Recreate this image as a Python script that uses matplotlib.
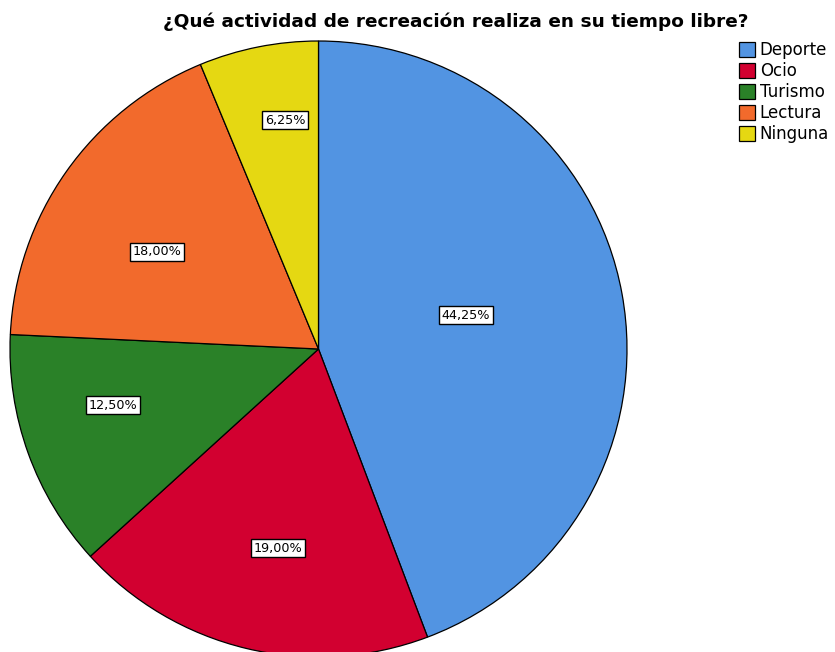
import matplotlib
matplotlib.use("Agg")
import matplotlib.pyplot as plt
import numpy as np

# data
categories = ["Deporte", "Ocio", "Turismo", "Lectura", "Ninguna"]
values = [44.25, 19.00, 12.50, 18.00, 6.25]
pct_labels = ["44,25%", "19,00%", "12,50%", "18,00%", "6,25%"]

colors = ["#5294E2", "#D20030", "#2A8128", "#F26A2C", "#E5D812"]
# radial position of each percentage box (fraction of radius)
label_r = [0.49, 0.66, 0.69, 0.61, 0.75]
label_shift = [2.5, 2.0, -4.5, 4.0, -3.0]  # degrees

fig = plt.figure(figsize=(8.35, 6.52), dpi=100)
ax = fig.add_axes([10 / 835, -5 / 652, 617 / 835, 616 / 652])

wedges, _ = ax.pie(values, colors=colors, startangle=90, counterclock=False,
                   radius=1.0, center=(0, 0),
                   wedgeprops=dict(edgecolor="black", linewidth=0.9))
ax.set_xlim(-1, 1)
ax.set_ylim(-1, 1)
ax.set_aspect("auto")
ax.axis("off")

for w, txt, r, sh in zip(wedges, pct_labels, label_r, label_shift):
    ang = np.deg2rad((w.theta1 + w.theta2) / 2 + sh)
    ax.text(r * np.cos(ang), r * np.sin(ang), txt, ha="center", va="center",
            fontsize=9.2,
            bbox=dict(boxstyle="square,pad=0.2", facecolor="white",
                      edgecolor="black", linewidth=1.0))

fig.text(456 / 835, 1 - 22 / 652, "¿Qué actividad de recreación realiza en su tiempo libre?",
         ha="center", va="center", fontsize=13.3, fontweight="bold")

fig.legend(wedges, categories, loc="upper left",
           bbox_to_anchor=(739 / 835, 1 - 41 / 652), frameon=False,
           handlelength=0.95, handleheight=1.0, handletextpad=0.3,
           labelspacing=0.18, borderpad=0, borderaxespad=0, fontsize=12)

fig.savefig("out.png", dpi=100)
